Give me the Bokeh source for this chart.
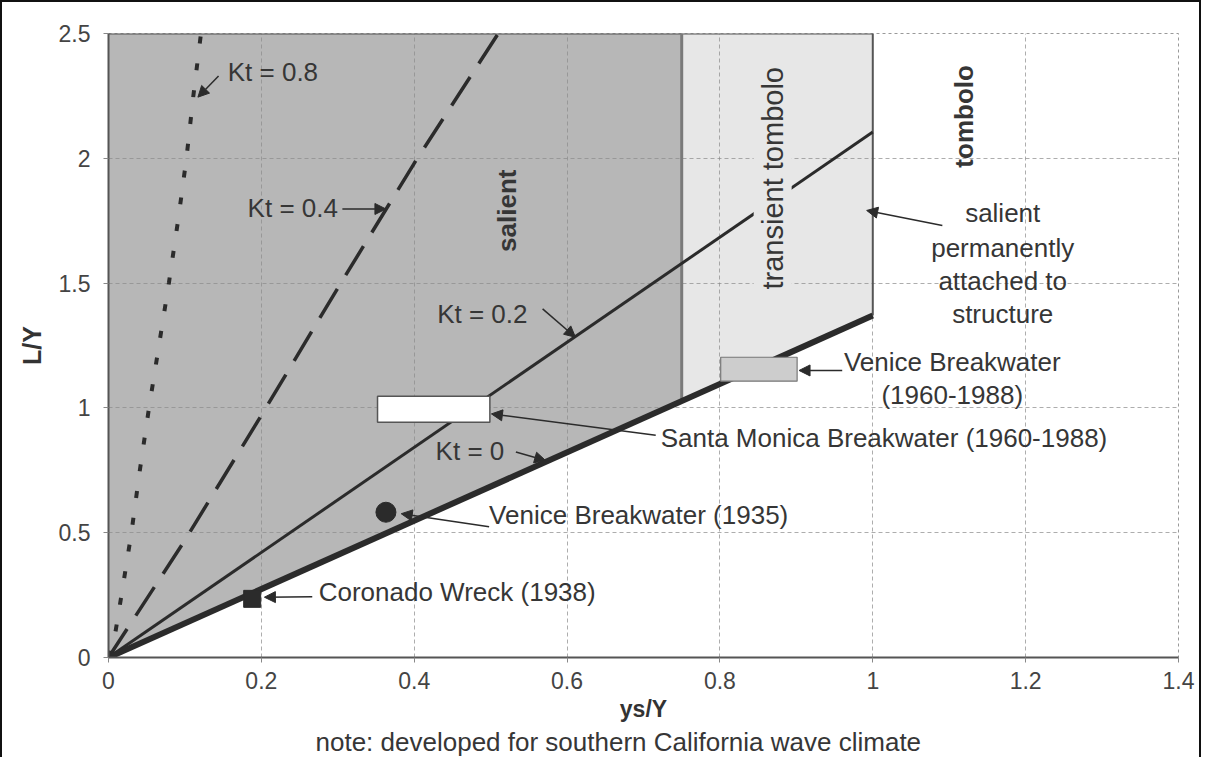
import math
from bokeh.plotting import figure
from bokeh.models import Label, Arrow, NormalHead, Title, Range1d, FixedTicker
from bokeh.embed import file_html
from bokeh.resources import INLINE

# ---------------- data ----------------
x_ticks = [0, 0.2, 0.4, 0.6, 0.8, 1, 1.2, 1.4]
x_tick_labels = ["0", "0.2", "0.4", "0.6", "0.8", "1", "1.2", "1.4"]
y_ticks = [0, 0.5, 1, 1.5, 2, 2.5]
y_tick_labels = ["0", "0.5", "1", "1.5", "2", "2.5"]

# Kt curves (ys/Y , L/Y)
kt0_x = [0.0, 1.0]
kt0_y = [0.0, 1.37]
kt02_x = [0.0, 1.0]
kt02_y = [0.0, 2.105]
kt04_x = [0.0, 0.1, 0.2, 0.3, 0.4, 0.51]
kt04_y = [0.0, 0.47, 0.97, 1.48, 1.98, 2.5]
kt08_x = [0.0, 0.009, 0.017, 0.030, 0.041, 0.053, 0.066, 0.079, 0.091, 0.102, 0.111, 0.121]
kt08_y = [0.0, 0.10, 0.25, 0.50, 0.75, 1.00, 1.25, 1.50, 1.75, 2.00, 2.25, 2.50]

# regions
salient_x = [0.0, 0.0, 0.75, 0.75]
salient_y = [0.0, 2.5, 2.5, 1.0275]
transient_x = [0.75, 0.75, 1.0, 1.0]
transient_y = [1.0275, 2.5, 2.5, 1.37]

# observed cases
coronado_x = [0.188]
coronado_y = [0.235]
venice35_x = [0.363]
venice35_y = [0.582]
santa_monica_box = dict(left=[0.352], right=[0.499], bottom=[0.943], top=[1.047])
venice60_box = dict(left=[0.801], right=[0.901], bottom=[1.107], top=[1.203])

# ---------------- figure ----------------
FONT = "Liberation Sans"
TXT = "#363636"
DARK = "#2b2b2b"

p = figure(width=1201, height=757,
           x_range=Range1d(0, 1.4), y_range=Range1d(0, 2.5),
           output_backend="svg", toolbar_location=None,
           min_border_left=106, min_border_right=25,
           min_border_top=31, min_border_bottom=102)
p.title.visible = False
p.styles = {"border-left": "2px solid #111", "border-top": "2px solid #111",
            "border-right": "2px solid #111"}
p.background_fill_color = "white"
p.border_fill_color = "white"
p.outline_line_color = "#999999"
p.outline_line_dash = "3 3"

# grid
for g, t in ((p.xgrid, x_ticks), (p.ygrid, y_ticks)):
    g.ticker = FixedTicker(ticks=t)
    g.grid_line_color = "#8a8a8a"
    g.grid_line_alpha = 0.7
    g.grid_line_dash = "4 3"
    g.grid_line_width = 1

# axes
p.xaxis.ticker = FixedTicker(ticks=x_ticks)
p.xaxis.major_label_overrides = {t: l for t, l in zip(x_ticks, x_tick_labels)}
p.yaxis.ticker = FixedTicker(ticks=y_ticks)
p.yaxis.major_label_overrides = {t: l for t, l in zip(y_ticks, y_tick_labels)}
for ax in (p.xaxis[0], p.yaxis[0]):
    ax.axis_line_color = "#555555"
    ax.axis_line_width = 2
    ax.major_tick_in = 0
    ax.major_tick_out = 5
    ax.major_tick_line_color = "#888888"
    ax.minor_tick_line_color = None
    ax.major_label_text_font = FONT
    ax.major_label_text_font_size = "23px"
    ax.major_label_text_color = "#444444"
    ax.axis_label_text_font = FONT
    ax.axis_label_text_font_style = "bold"
    ax.axis_label_text_color = "#333333"
p.xaxis.major_label_standoff = 9
p.yaxis.major_label_standoff = 13
p.xaxis.axis_label = "ys/Y"
p.yaxis.axis_label = "L/Y"
p.xaxis.axis_label_text_font_size = "23px"
p.yaxis.axis_label_text_font_size = "25px"
p.xaxis.axis_label_standoff = 4
p.yaxis.axis_label_standoff = 10

note = Title(text="note:  developed for southern California wave climate",
             align="left", offset=207, text_font=FONT, text_font_size="26px",
             text_font_style="normal", text_color=TXT, standoff=0)
p.add_layout(note, "below")

# shaded regions (below the grid)
p.patch(salient_x, salient_y, fill_color="#b7b7b7", line_color=None, level="image")
p.patch(transient_x, transient_y, fill_color="#e7e7e7", line_color=None, level="image")

# region borders
p.line([salient_x[0], transient_x[2]], [2.5, 2.5], line_color="#555555", line_width=2)
p.line([salient_x[2], salient_x[3]], [salient_y[2], salient_y[3]], line_color="#7a7a7a", line_width=3)
p.line([transient_x[2], transient_x[3]], [transient_y[2], transient_y[3]], line_color="#555555", line_width=2)

# Kt lines
p.line(kt08_x, kt08_y, line_color=DARK, line_width=4, line_dash="7 20")
p.line(kt04_x, kt04_y, line_color=DARK, line_width=3.5, line_dash="34 16")
p.line(kt02_x, kt02_y, line_color=DARK, line_width=3)
p.line(kt0_x, kt0_y, line_color=DARK, line_width=6)

# cases
p.quad(left=santa_monica_box["left"], right=santa_monica_box["right"],
       bottom=santa_monica_box["bottom"], top=santa_monica_box["top"],
       fill_color="white", line_color="#555555", line_width=1.5)
p.quad(left=venice60_box["left"], right=venice60_box["right"],
       bottom=venice60_box["bottom"], top=venice60_box["top"],
       fill_color="#cdcdcd", line_color="#777777", line_width=1.2)
p.scatter(coronado_x, coronado_y, marker="square", size=17, fill_color=DARK, line_color=DARK)
p.scatter(venice35_x, venice35_y, marker="circle", size=20, fill_color=DARK, line_color=DARK)


def label(x, y, text, size="26px", align="left", angle=0.0, bold=False, bg=None, pad=0):
    lab = Label(x=x, y=y, text=text, text_font=FONT, text_font_size=size,
                text_color=TXT, text_align=align, text_baseline="middle",
                angle=angle, text_font_style="bold" if bold else "normal",
                background_fill_color=bg, padding=pad)
    p.add_layout(lab)


def arrow(x0, y0, x1, y1):
    p.add_layout(Arrow(end=NormalHead(size=11, fill_color=DARK, line_color=DARK),
                       x_start=x0, y_start=y0, x_end=x1, y_end=y1,
                       line_color=DARK, line_width=1.5))


# Kt labels
label(0.156, 2.344, "Kt = 0.8")
arrow(0.144, 2.33, 0.117, 2.245)
label(0.182, 1.80, "Kt = 0.4")
arrow(0.306, 1.797, 0.363, 1.797)
label(0.430, 1.378, "Kt = 0.2")
arrow(0.568, 1.397, 0.611, 1.283)
label(0.428, 0.829, "Kt = 0")
arrow(0.533, 0.823, 0.572, 0.789)

# case labels
label(0.7225, 0.881, "Santa Monica Breakwater (1960-1988)")
arrow(0.716, 0.890, 0.501, 0.976)
label(1.104, 1.183, "Venice Breakwater", align="center")
label(1.104, 1.050, "(1960-1988)", align="center")
arrow(0.960, 1.150, 0.9035, 1.150)
label(0.498, 0.569, "Venice Breakwater (1935)")
arrow(0.498, 0.524, 0.383, 0.576)
label(0.275, 0.262, "Coronado Wreck (1938)")
arrow(0.2666, 0.243, 0.204, 0.2416)

# region labels
label(0.522, 1.79, "salient", angle=math.pi / 2, align="center", bold=True)
label(0.869, 1.92, "transient tombolo", size="29px", angle=math.pi / 2, align="center",
      bg="#e7e7e7", pad=3)
label(1.1195, 2.168, "tombolo", angle=math.pi / 2, align="center", bold=True)
label(1.17, 1.780, "salient", align="center")
label(1.17, 1.642, "permanently", align="center")
label(1.17, 1.510, "attached to", align="center")
label(1.17, 1.377, "structure", align="center")
arrow(1.091, 1.731, 0.992, 1.791)

open("out.html", "w").write(file_html(p, INLINE))
